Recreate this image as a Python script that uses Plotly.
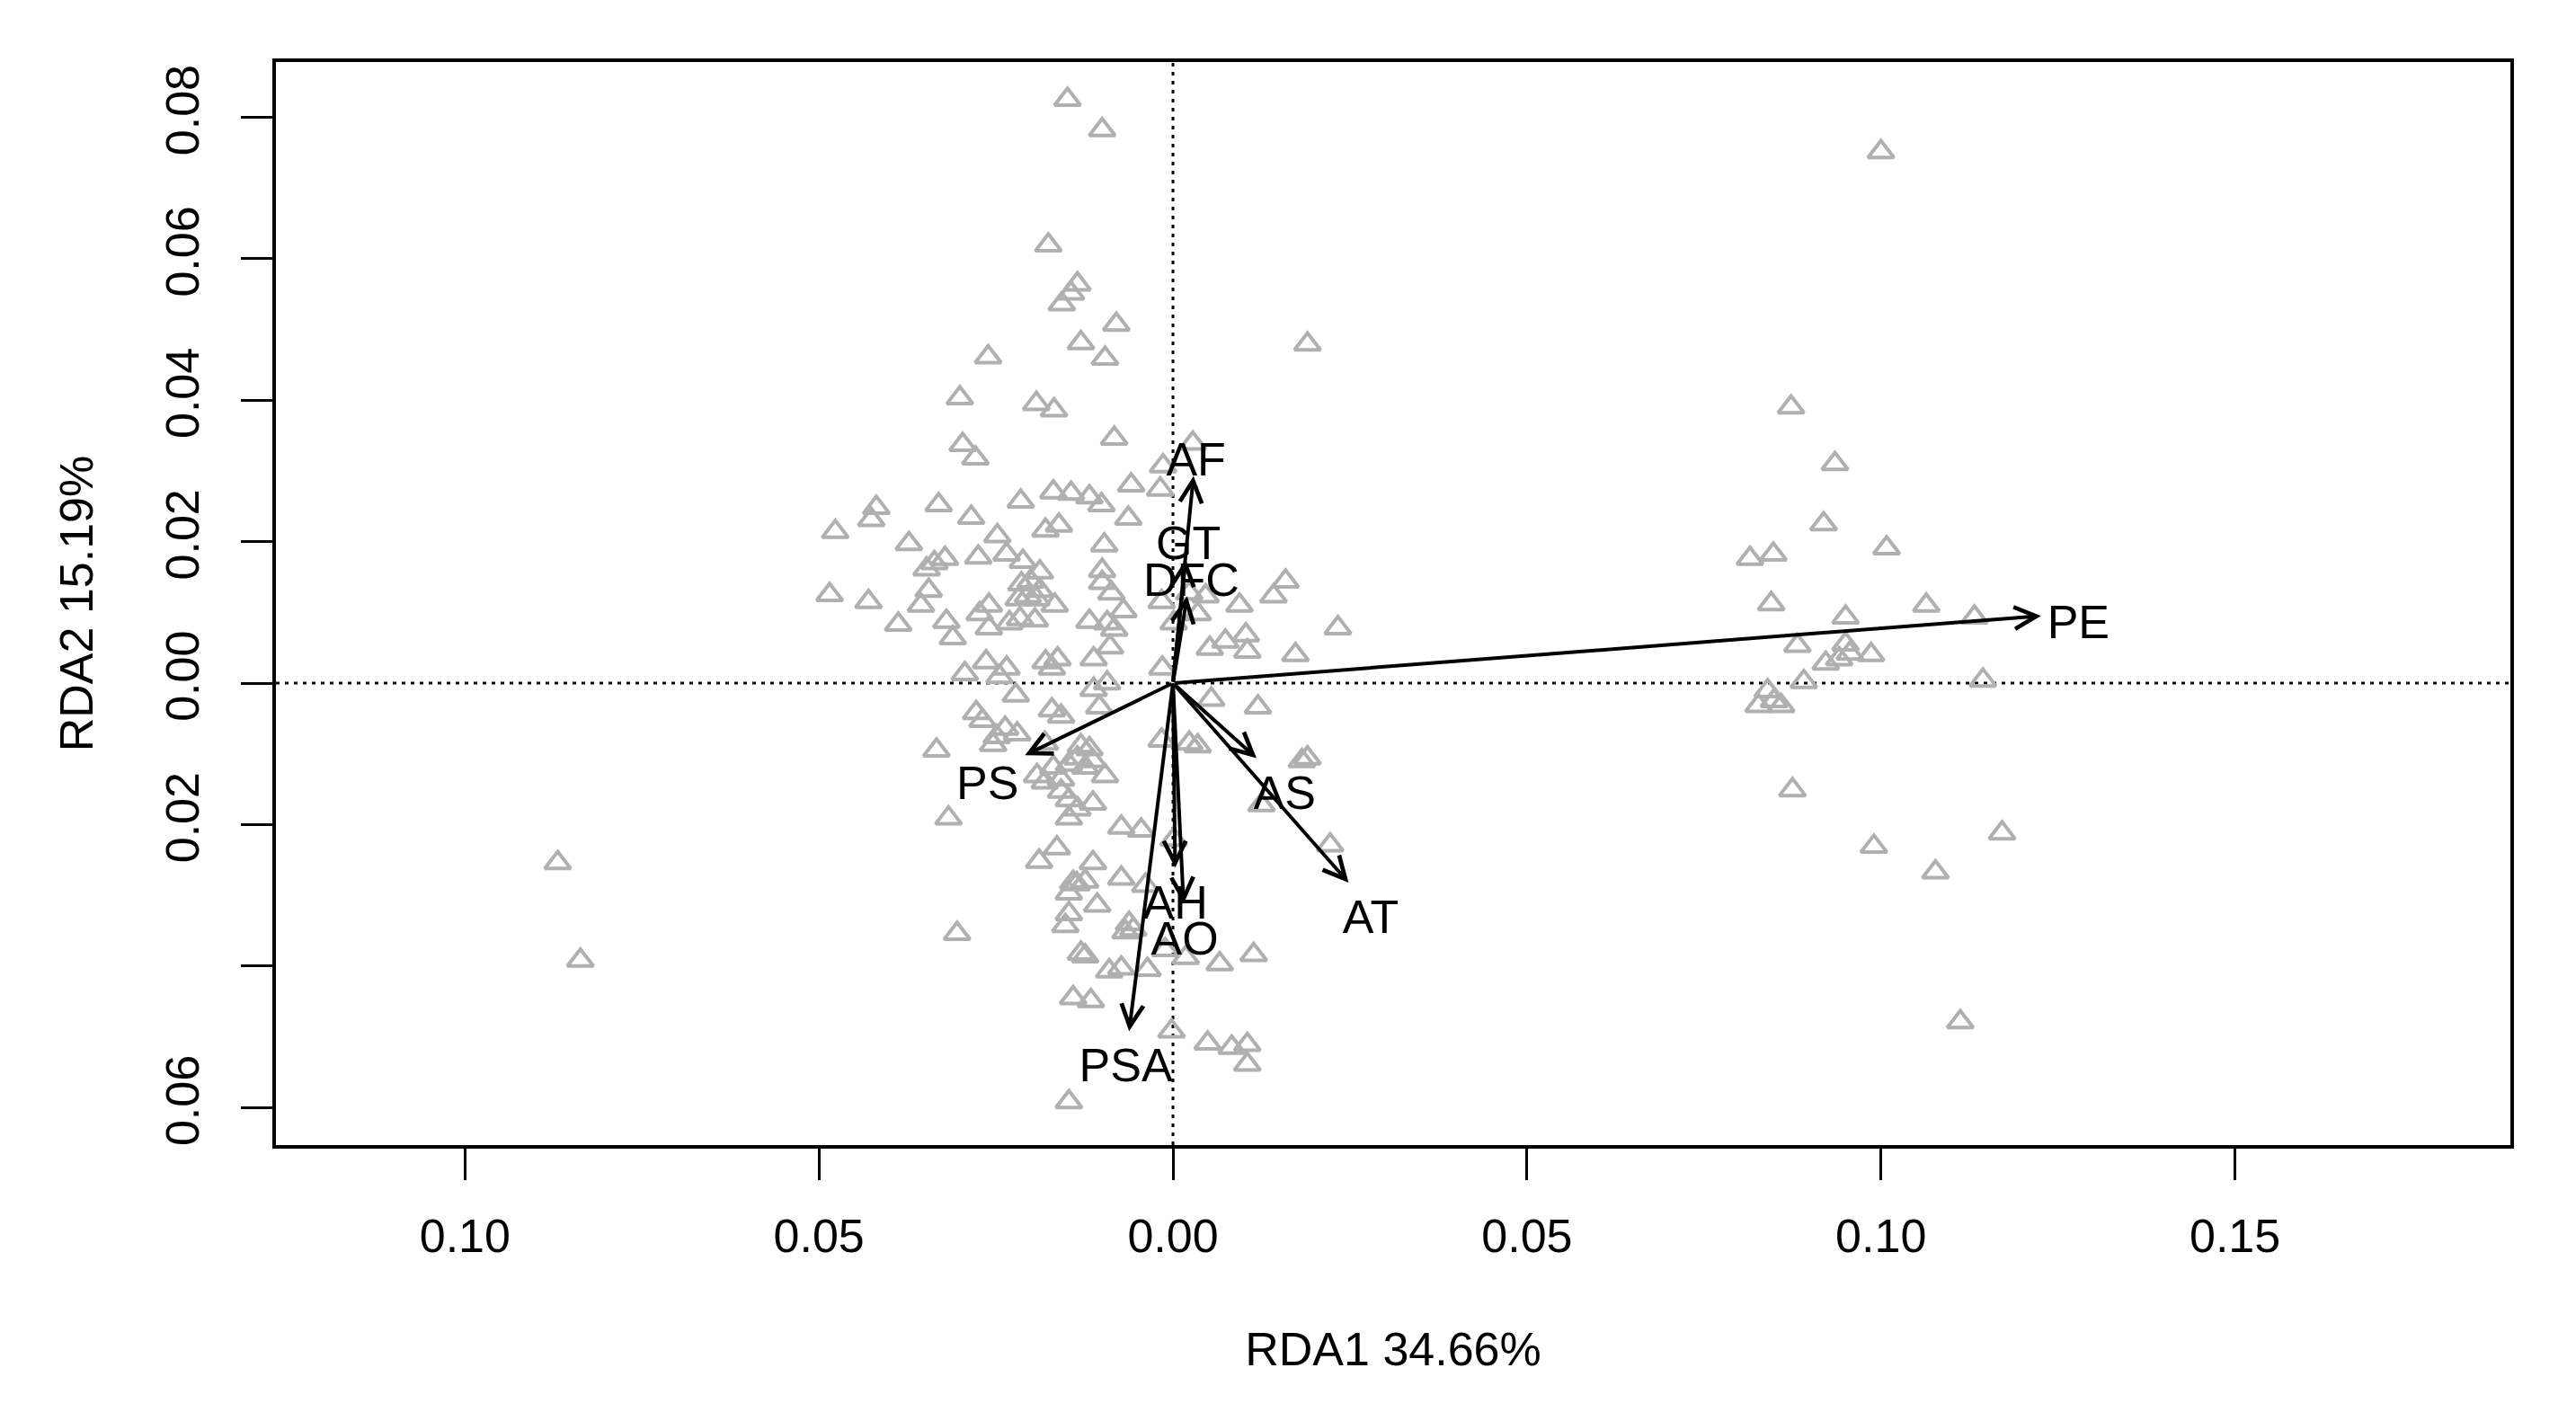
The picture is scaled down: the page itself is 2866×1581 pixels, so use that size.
import numpy as np
import plotly.graph_objects as go

# site scores (RDA1, RDA2)
site_x = [
    -0.0149, -0.0100, -0.0176, -0.0135, -0.0144, -0.0157, -0.0080, -0.0130, -0.0096, -0.0261,
    -0.0301, -0.0193, -0.0168, -0.0083, -0.0297, -0.0279, 0.0190, 0.0028, -0.0014, -0.0059,
    -0.0018, -0.0169, -0.0144, -0.0118, -0.0101, -0.0215, -0.0331, -0.0285, -0.0419, -0.0426,
    -0.0477, -0.0063, -0.0180, -0.0161, -0.0248, -0.0097, -0.0275, -0.0235, -0.0212, -0.0188,
    -0.0214, -0.0201, -0.0188, -0.0205, -0.0218, -0.0193, -0.0167, -0.0100, -0.0100, -0.0087,
    -0.0070, -0.0260, -0.0273, -0.0260, -0.0231, -0.0216, -0.0195, -0.0118, -0.0093, -0.0083,
    -0.0089, -0.0112, -0.0264, -0.0235, -0.0245, -0.0180, -0.0163, -0.0171, -0.0015, -0.0112,
    -0.0093, -0.0222, -0.0171, -0.0104, -0.0278, -0.0016, 0.0001, -0.0373, -0.0322, -0.0337,
    -0.0348, -0.0345, -0.0485, -0.0430, -0.0356, -0.0320, -0.0388, -0.0311, -0.0294, -0.0334,
    -0.0317, 0.0035, 0.0046, 0.0023, 0.0094, 0.0142, 0.0159, 0.0052, 0.0074, 0.0103,
    0.0105, 0.0173, 0.0233, 0.0054, 0.0120, 0.0023, 0.0035, 0.0182, 0.0190, 0.0125,
    0.0001, 0.0222, -0.0158, -0.0269, -0.0237, -0.0220, -0.0249, -0.0254, -0.0181, -0.0130,
    -0.0118, -0.0135, -0.0113, -0.0124, -0.0147, -0.0169, -0.0016, -0.0192, -0.0181, -0.0158,
    -0.0096, -0.0158, -0.0147, -0.0135, -0.0147, -0.0113, -0.0073, -0.0045, -0.0164, -0.0189,
    -0.0113, -0.0141, -0.0124, -0.0073, -0.0039, -0.0147, -0.0136, -0.0107, -0.0147, -0.0152,
    -0.0062, -0.0056, -0.0067, -0.0305, -0.0130, -0.0124, -0.0090, -0.0073, -0.0036, -0.0011,
    0.0018, 0.0066, 0.0114, -0.0141, -0.0116, -0.0002, 0.0049, 0.0083, 0.0105, 0.0105,
    -0.0147,
    0.1000, 0.0873, 0.0935, 0.0919, 0.0815, 0.0848, 0.1008, 0.0845, 0.1064, 0.1132,
    0.0950, 0.0882, 0.0950, 0.0956, 0.0941, 0.0922, 0.0986, 0.0891, 0.1144, 0.0840,
    0.0827, 0.0859, 0.0849, 0.0875, 0.0990, 0.1077, 0.1171, 0.1112,
    -0.0869, -0.0837,
]
site_y = [
    0.0825, 0.0782, 0.0619, 0.0564, 0.0551, 0.0536, 0.0507, 0.0481, 0.0459, 0.0461,
    0.0403, 0.0395, 0.0386, 0.0346, 0.0337, 0.0318, 0.0479, 0.0339, 0.0307, 0.0280,
    0.0274, 0.0270, 0.0268, 0.0263, 0.0252, 0.0257, 0.0252, 0.0234, 0.0248, 0.0231,
    0.0214, 0.0233, 0.0216, 0.0223, 0.0208, 0.0195, 0.0178, 0.0182, 0.0172, 0.0157,
    0.0140, 0.0144, 0.0131, 0.0123, 0.0119, 0.0119, 0.0110, 0.0159, 0.0142, 0.0127,
    0.0102, 0.0110, 0.0098, 0.0078, 0.0085, 0.0091, 0.0089, 0.0087, 0.0085, 0.0076,
    0.0051, 0.0034, 0.0030, 0.0021, 0.0009, 0.0030, 0.0034, 0.0021, 0.0021, -0.0009,
    0.0000, -0.0017, -0.0038, -0.0034, -0.0042, 0.0115, 0.0085, 0.0197, 0.0176, 0.0170,
    0.0161, 0.0131, 0.0125, 0.0115, 0.0110, 0.0087, 0.0083, 0.0064, 0.0013, -0.0095,
    -0.0191, 0.0098, 0.0123, 0.0127, 0.0110, 0.0123, 0.0144, 0.0049, 0.0059, 0.0068,
    0.0045, 0.0040, 0.0078, -0.0023, -0.0034, -0.0085, -0.0089, -0.0110, -0.0106, -0.0172,
    -0.0221, -0.0229, -0.0047, -0.0053, -0.0064, -0.0072, -0.0076, -0.0087, -0.0085, -0.0089,
    -0.0093, -0.0106, -0.0110, -0.0119, -0.0115, -0.0119, -0.0081, -0.0131, -0.0140, -0.0136,
    -0.0131, -0.0153, -0.0165, -0.0178, -0.0191, -0.0170, -0.0204, -0.0208, -0.0233, -0.0252,
    -0.0254, -0.0282, -0.0280, -0.0276, -0.0286, -0.0297, -0.0284, -0.0314, -0.0326, -0.0343,
    -0.0340, -0.0348, -0.0352, -0.0354, -0.0382, -0.0386, -0.0407, -0.0403, -0.0405, -0.0377,
    -0.0388, -0.0397, -0.0384, -0.0445, -0.0449, -0.0492, -0.0509, -0.0515, -0.0511, -0.0539,
    -0.0592,
    0.0751, 0.0390, 0.0310, 0.0225, 0.0176, 0.0182, 0.0191, 0.0112, 0.0110, 0.0093,
    0.0093, 0.0053, 0.0055, 0.0042, 0.0034, 0.0028, 0.0040, 0.0002, 0.0004, -0.0011,
    -0.0032, -0.0032, -0.0025, -0.0151, -0.0231, -0.0267, -0.0212, -0.0479,
    -0.0254, -0.0392,
]

# biplot arrows for the explanatory variables
var_names = ["PE", "AF", "GT", "DFC", "PS", "AS", "AT", "AH", "AO", "PSA"]
var_x = [0.1226, 0.0029, 0.0018, 0.0020, -0.0209, 0.0118, 0.0248, 0.0003, 0.0015, -0.0062]
var_y = [0.0095, 0.0293, 0.0175, 0.0123, -0.0102, -0.0106, -0.0282, -0.0261, -0.0312, -0.0492]

x_ticks = [-0.10, -0.05, 0.00, 0.05, 0.10, 0.15]
x_ticktext = ["0.10", "0.05", "0.00", "0.05", "0.10", "0.15"]
y_ticks = [-0.06, -0.04, -0.02, 0.00, 0.02, 0.04, 0.06, 0.08]
y_ticktext = ["0.06", "", "0.02", "0.00", "0.02", "0.04", "0.06", "0.08"]

# the page body has an 8px margin, so the figure is made 8px smaller
W, H = 2858, 1573
ml, mr, mt, mb = 299, 73, 61, 307
x_range = [-0.1267, 0.1889]
y_range = [-0.0653, 0.0878]
fs = 52
font = "Liberation Sans, Arial, sans-serif"

kx = (W - ml - mr) / (x_range[1] - x_range[0])
ky = (H - mt - mb) / (y_range[1] - y_range[0])


# put the label just beyond the arrow head (like vegan's ordiArrowTextXY)
def label_pos(vx, vy, text):
    w = 0.62 * fs * len(text)
    h = 0.72 * fs
    px, py = vx * kx, vy * ky
    ox = np.sign(px) * (w / 2 + h / 4)
    oy = 0.75 * h * np.sign(py)
    b = py / px
    move = oy / b
    if abs(move) <= abs(ox):
        ox = move
    else:
        oy = b * ox
    # plotly centres text a little high compared with R
    oy -= 15
    return vx + ox / kx, vy + oy / ky


lab = [label_pos(a, b, t) for a, b, t in zip(var_x, var_y, var_names)]

fig = go.Figure()

fig.add_trace(go.Scatter(
    x=site_x, y=site_y, mode="markers",
    marker=dict(symbol="triangle-up-open", size=25, color="#b0b0b0",
                line=dict(width=4, color="#b0b0b0")),
    hoverinfo="skip", showlegend=False,
))

fig.add_trace(go.Scatter(
    x=[p[0] for p in lab], y=[p[1] for p in lab], text=var_names,
    mode="text", textposition="middle center",
    textfont=dict(size=fs, color="black", family=font),
    showlegend=False, hoverinfo="skip",
))

for vx, vy in zip(var_x, var_y):
    fig.add_annotation(
        x=vx, y=vy, ax=0, ay=0, xref="x", yref="y", axref="x", ayref="y",
        text="", showarrow=True, arrowhead=5, arrowsize=1.2,
        arrowwidth=4, arrowcolor="black", standoff=0, startstandoff=0,
    )

# dotted reference lines through the origin
fig.add_shape(type="line", xref="x", yref="paper", x0=0, x1=0, y0=0, y1=1,
              line=dict(color="black", width=3, dash="4px,6px"), layer="below")
fig.add_shape(type="line", xref="paper", yref="y", x0=0, x1=1, y0=0, y1=0,
              line=dict(color="black", width=3, dash="4px,6px"), layer="below")

axis_common = dict(
    showgrid=False, zeroline=False, showline=True, mirror=True,
    linecolor="black", linewidth=4, ticks="outside", ticklen=35,
    tickwidth=2.5, tickcolor="black",
    tickfont=dict(size=fs, color="black", family=font),
)

fig.update_layout(
    width=W, height=H,
    margin=dict(l=ml, r=mr, t=mt, b=mb),
    paper_bgcolor="white", plot_bgcolor="white",
    font=dict(family=font, size=fs, color="black"),
    xaxis=dict(range=x_range, tickvals=x_ticks, ticktext=x_ticktext,
               ticklabelstandoff=18,
               title=dict(text="RDA1 34.66%", font=dict(size=fs), standoff=80),
               **axis_common),
    yaxis=dict(range=y_range, tickvals=y_ticks, ticktext=y_ticktext,
               tickangle=-90, ticklabelstandoff=26,
               title=dict(text="RDA2 15.19%", font=dict(size=fs), standoff=55),
               **axis_common),
)

fig.write_html("out.html")
